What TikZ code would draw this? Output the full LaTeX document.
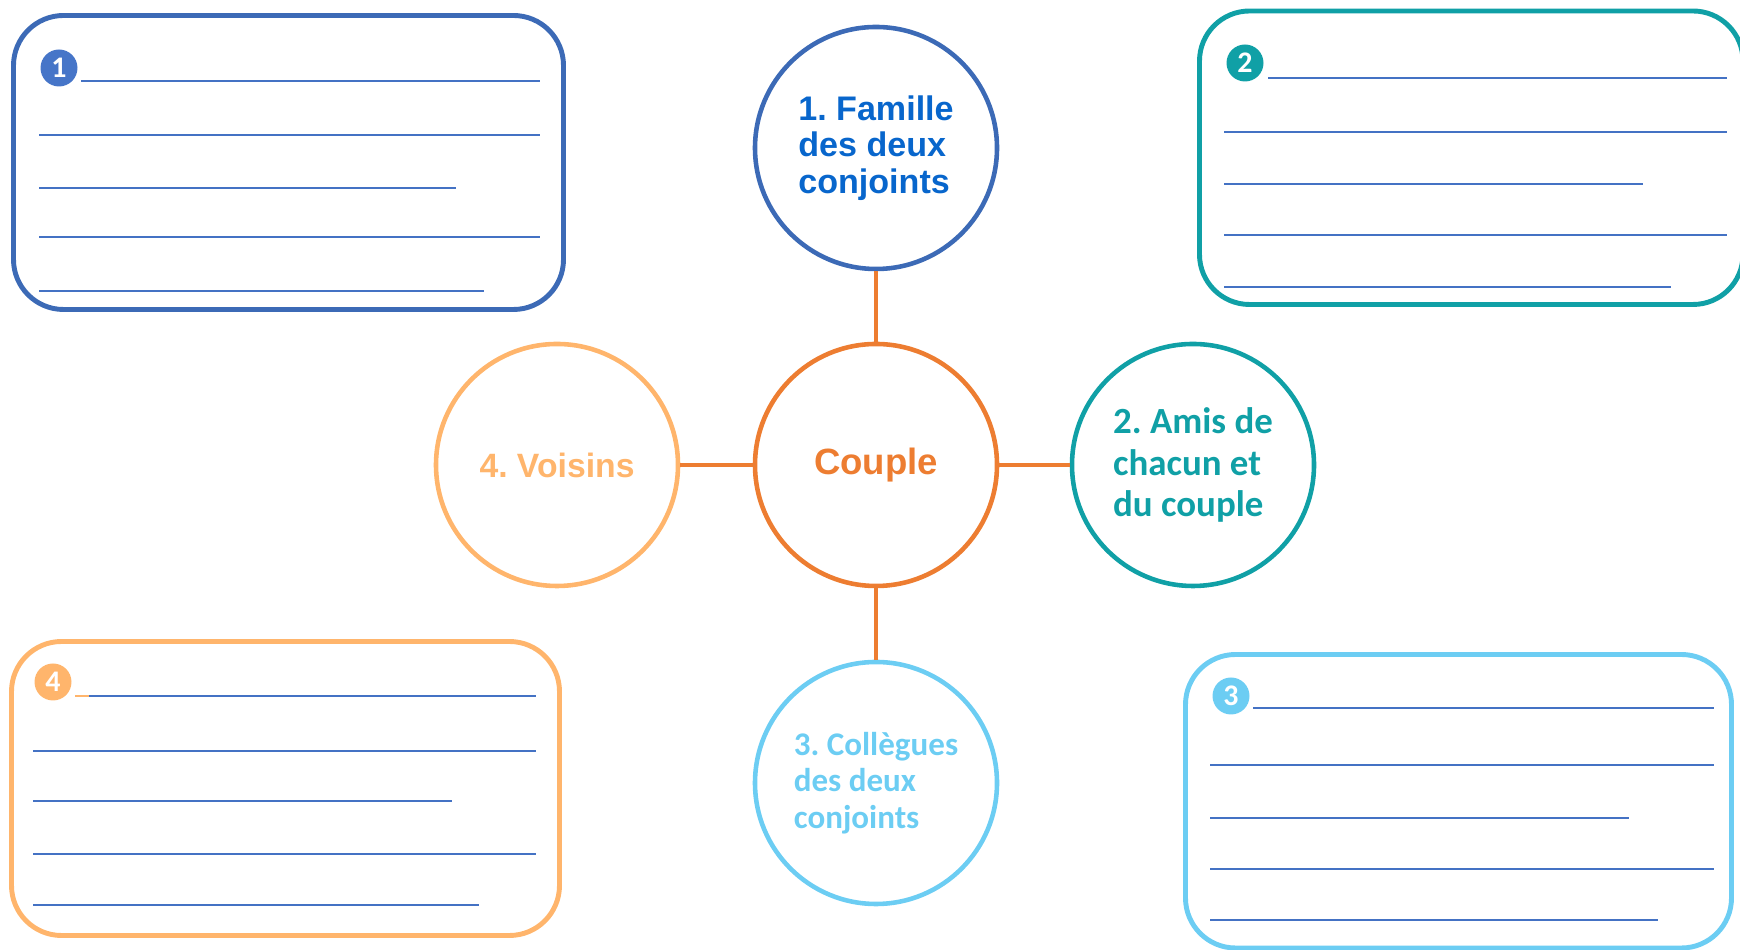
\documentclass[tikz,border=0pt]{standalone}
\usepackage{fontspec}
\setmainfont{Liberation Sans}
\newfontfamily\calibri{Carlito}
\frenchspacing

\definecolor{bleucadre}{RGB}{60,106,182}
\definecolor{bleutexte}{RGB}{8,102,204}
\definecolor{bleuligne}{RGB}{68,114,196}
\definecolor{bleupastille}{RGB}{70,117,200}
\definecolor{turquoise}{RGB}{16,160,166}
\definecolor{ciel}{RGB}{108,205,243}
\definecolor{peche}{RGB}{255,181,108}
\definecolor{orangefonce}{RGB}{237,125,49}

\begin{document}
\begin{tikzpicture}[
    bulle/.style={circle, draw, line width=1.3pt, minimum size=2.42cm, inner sep=0pt, align=left},
    cadre/.style={line width=1.4pt, rounded corners=0.5cm},
    ligne/.style={bleuligne, line width=0.65pt},
    pastille/.style={circle, minimum size=0.37cm, inner sep=0pt, text=white,
      font=\calibri\bfseries\fontsize{8.5}{9}\selectfont},
    lien/.style={orangefonce, line width=1.25pt}
  ]
  \useasboundingbox (0,0) rectangle (17.4,9.5);

  % 中心和四个圆
  \node[bulle, draw=orangefonce, text=orangefonce, font=\bfseries\fontsize{10.4}{11}\selectfont] (couple) at (8.76,4.85) {Couple};
  \node[bulle, draw=bleucadre, text=bleutexte, font=\bfseries\fontsize{9.7}{10.3}\selectfont] (famille) at (8.76,8.02) {1. Famille\\des deux\\conjoints};
  \node[bulle, draw=turquoise, text=turquoise, font=\calibri\bfseries\fontsize{10.5}{11.7}\selectfont] (amis) at (11.93,4.85) {2. Amis de\\chacun et\\du couple};
  \node[bulle, draw=ciel, text=ciel, font=\calibri\bfseries\fontsize{9.4}{10.4}\selectfont] (collegues) at (8.76,1.67) {3. Collègues\\des deux\\conjoints};
  \node[bulle, draw=peche, text=peche, font=\bfseries\fontsize{9.6}{10.3}\selectfont] (voisins) at (5.57,4.85) {4. Voisins};

  % 连线
  \draw[lien] (couple) -- (famille);
  \draw[lien] (couple) -- (amis);
  \draw[lien] (couple) -- (collegues);
  \draw[lien] (couple) -- (voisins);

  % 方框 1 (左上)
  \draw[cadre, bleucadre] (0.135,6.405) rectangle (5.635,9.345);
  \node[pastille, fill=bleupastille] (p1) at (0.59,8.82) {1};
  \draw[ligne] (0.81,8.69) -- (5.40,8.69);
  \foreach \y/\xe in {8.15/5.40, 7.62/4.56, 7.13/5.40, 6.59/4.84}
    \draw[ligne] (0.39,\y) -- (\xe,\y);

  % 方框 2 (右上)
  \draw[cadre, turquoise] (11.995,6.455) rectangle (17.43,9.39);
  \node[pastille, fill=turquoise] (p2) at (12.45,8.87) {2};
  \draw[ligne] (12.68,8.72) -- (17.27,8.72);
  \foreach \y/\xe in {8.18/17.27, 7.66/16.43, 7.15/17.27, 6.63/16.71}
    \draw[ligne] (12.24,\y) -- (\xe,\y);

  % 方框 3 (右下)
  \draw[cadre, ciel] (11.855,0.02) rectangle (17.315,2.955);
  \node[pastille, fill=ciel] (p3) at (12.31,2.54) {3};
  \draw[ligne] (12.53,2.42) -- (17.14,2.42);
  \foreach \y/\xe in {1.85/17.14, 1.32/16.29, 0.81/17.14, 0.30/16.58}
    \draw[ligne] (12.10,\y) -- (\xe,\y);

  % 方框 4 (左下)
  \draw[cadre, peche] (0.115,0.145) rectangle (5.595,3.085);
  \node[pastille, fill=peche] (p4) at (0.53,2.68) {4};
  \draw[peche, line width=0.65pt] (0.75,2.54) -- (0.89,2.54);
  \draw[ligne] (0.89,2.54) -- (5.36,2.54);
  \foreach \y/\xe in {1.99/5.36, 1.49/4.52, 0.96/5.36, 0.45/4.79}
    \draw[ligne] (0.33,\y) -- (\xe,\y);
\end{tikzpicture}
\end{document}
